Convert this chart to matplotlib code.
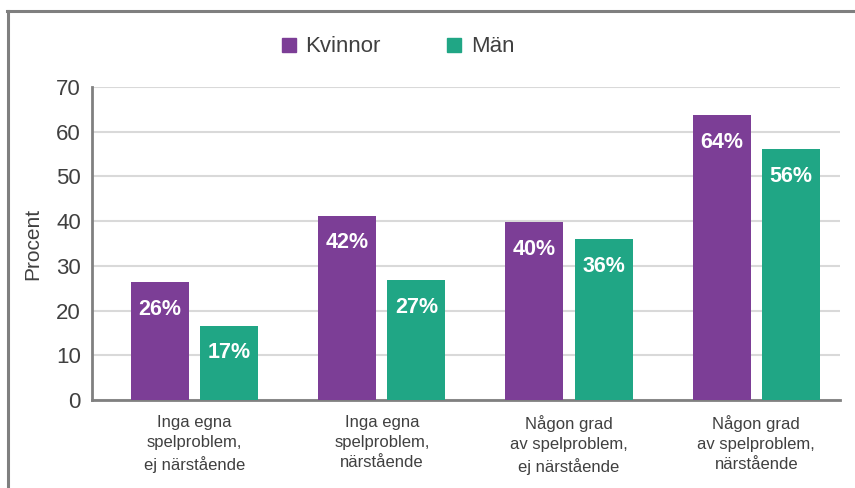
import numpy as np
import matplotlib.pyplot as plt
from matplotlib.lines import Line2D

categories = ['Inga egna\nspelproblem,\nej närstående',
              'Inga egna\nspelproblem,\nnärstående',
              'Någon grad\nav spelproblem,\nej närstående',
              'Någon grad\nav spelproblem,\nnärstående']
kvinnor = [26.4, 41.2, 39.8, 63.7]
man = [16.6, 26.8, 36.0, 56.1]
kvinnor_labels = ['26%', '42%', '40%', '64%']
man_labels = ['17%', '27%', '36%', '56%']
yticks = [0, 10, 20, 30, 40, 50, 60, 70]

purple = '#7c3e96'
teal = '#20a685'
textcol = '#404040'

plt.rcParams['font.family'] = ['Liberation Sans', 'DejaVu Sans']

fig = plt.figure(figsize=(8.55, 4.88), dpi=100)
ax = fig.add_axes([92/855, 88/488, 748/855, 313/488])

x = np.arange(len(categories))
w = 0.31
off = 0.185
b1 = ax.bar(x - off, kvinnor, w, color=purple, zorder=3)
b2 = ax.bar(x + off, man, w, color=teal, zorder=3)

for bars, labs in [(b1, kvinnor_labels), (b2, man_labels)]:
    for rect, lab in zip(bars, labs):
        ax.annotate(lab, (rect.get_x() + rect.get_width() / 2, rect.get_height()),
                    xytext=(0, -19.5), textcoords='offset points',
                    ha='center', va='center', color='white',
                    fontsize=15.5, fontweight='bold', zorder=4)

ax.set_xlim(-0.548, 3.447)
ax.set_ylim(0, 70)
ax.set_yticks(yticks)
ax.set_xticks(x)
ax.set_xticklabels(categories, fontsize=12, color=textcol, linespacing=1.4)
ax.tick_params(axis='y', length=0, pad=8, labelsize=16, labelcolor=textcol)
ax.tick_params(axis='x', length=0, pad=11)
ax.set_ylabel('Procent', fontsize=15, color=textcol, labelpad=10)

ax.grid(axis='y', color='#d9d9d9', linewidth=1.5, zorder=0)
for s in ['top', 'right']:
    ax.spines[s].set_visible(False)
for s in ['left', 'bottom']:
    ax.spines[s].set_color('#808080')
    ax.spines[s].set_linewidth(2)

handles = [Line2D([], [], marker='s', linestyle='none', markersize=10,
                  color=purple, label='Kvinnor'),
           Line2D([], [], marker='s', linestyle='none', markersize=10,
                  color=teal, label='Män')]
leg = fig.legend(handles=handles, loc='center left',
                 bbox_to_anchor=(281/855, 1 - 47/488), ncol=2, frameon=False,
                 fontsize=16, handlelength=0.7, handletextpad=0.4,
                 columnspacing=2.95, borderpad=0, borderaxespad=0)
for t in leg.get_texts():
    t.set_color(textcol)

# grey frame round the chart (cut off at right and bottom)
fig.add_artist(Line2D([7/855, 1], [1 - 10.5/488] * 2, color='#7f7f7f', linewidth=2.2))
fig.add_artist(Line2D([7.5/855] * 2, [0, 1 - 10.5/488], color='#7f7f7f', linewidth=2.2))

fig.savefig('out.png', dpi=100)
